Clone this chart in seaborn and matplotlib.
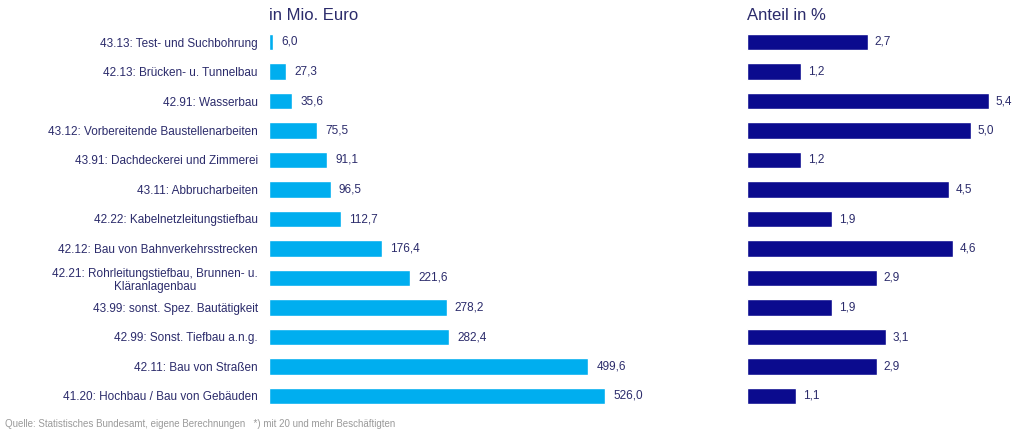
import pandas as pd
import numpy as np
import matplotlib.pyplot as plt
import seaborn as sns

sns.set_style("white")
plt.rcParams['font.family'] = ['Liberation Sans', 'DejaVu Sans']

# Daten
kategorien = [
    "43.13: Test- und Suchbohrung",
    "42.13: Brücken- u. Tunnelbau",
    "42.91: Wasserbau",
    "43.12: Vorbereitende Baustellenarbeiten",
    "43.91: Dachdeckerei und Zimmerei",
    "43.11: Abbrucharbeiten",
    "42.22: Kabelnetzleitungstiefbau",
    "42.12: Bau von Bahnverkehrsstrecken",
    "42.21: Rohrleitungstiefbau, Brunnen- u.\nKläranlagenbau",
    "43.99: sonst. Spez. Bautätigkeit",
    "42.99: Sonst. Tiefbau a.n.g.",
    "42.11: Bau von Straßen",
    "41.20: Hochbau / Bau von Gebäuden",
]
mio_euro = [6.0, 27.3, 35.6, 75.5, 91.1, 96.5, 112.7, 176.4, 221.6, 278.2, 282.4, 499.6, 526.0]
anteil = [2.7, 1.2, 5.4, 5.0, 1.2, 4.5, 1.9, 4.6, 2.9, 1.9, 3.1, 2.9, 1.1]

df = pd.DataFrame({"Kategorie": kategorien, "Mio": mio_euro, "Anteil": anteil})

text_col = "#2b2b6b"
fig = plt.figure(figsize=(10.13, 4.34), dpi=100)

bottom = 1 - 410.75 / 434
height = 383.5 / 434
ax1 = fig.add_axes([269 / 1013, bottom, 383 / 1013, height])
ax2 = fig.add_axes([747 / 1013, bottom, 263 / 1013, height])

sns.barplot(data=df, x="Mio", y="Kategorie", ax=ax1, color="#00AEEF",
            saturation=1, width=0.55, orient="h")
sns.barplot(data=df, x="Anteil", y="Kategorie", ax=ax2, color="#0B0B8E",
            saturation=1, width=0.55, orient="h")

ax1.set_xlim(0, 600)
ax2.set_xlim(0, 5.87)

for ax in (ax1, ax2):
    ax.set_ylim(12.5, -0.5)
    ax.set_xlabel("")
    ax.set_ylabel("")
    ax.set_xticks([])
    sns.despine(ax=ax, left=True, bottom=True)

ax1.tick_params(axis="y", length=0, pad=8, labelsize=8.5, labelcolor=text_col)
for lbl in ax1.get_yticklabels():
    lbl.set_multialignment("center")
ax2.set_yticks([])

ax1.bar_label(ax1.containers[0], labels=[f"{v:.1f}".replace(".", ",") for v in mio_euro],
              padding=6, fontsize=8.5, color=text_col)
ax2.bar_label(ax2.containers[0], labels=[f"{v:.1f}".replace(".", ",") for v in anteil],
              padding=5, fontsize=8.5, color=text_col)

fig.text(269 / 1013, 1 - 16 / 434, "in Mio. Euro", fontsize=12, color=text_col, va="center")
fig.text(747 / 1013, 1 - 16 / 434, "Anteil in %", fontsize=12, color=text_col, va="center")
fig.text(5 / 1013, 1 - 424 / 434,
         "Quelle: Statistisches Bundesamt, eigene Berechnungen   *) mit 20 und mehr Beschäftigten",
         fontsize=7, color="#9a9a9a", va="center")

fig.savefig("out.png", dpi=100)
